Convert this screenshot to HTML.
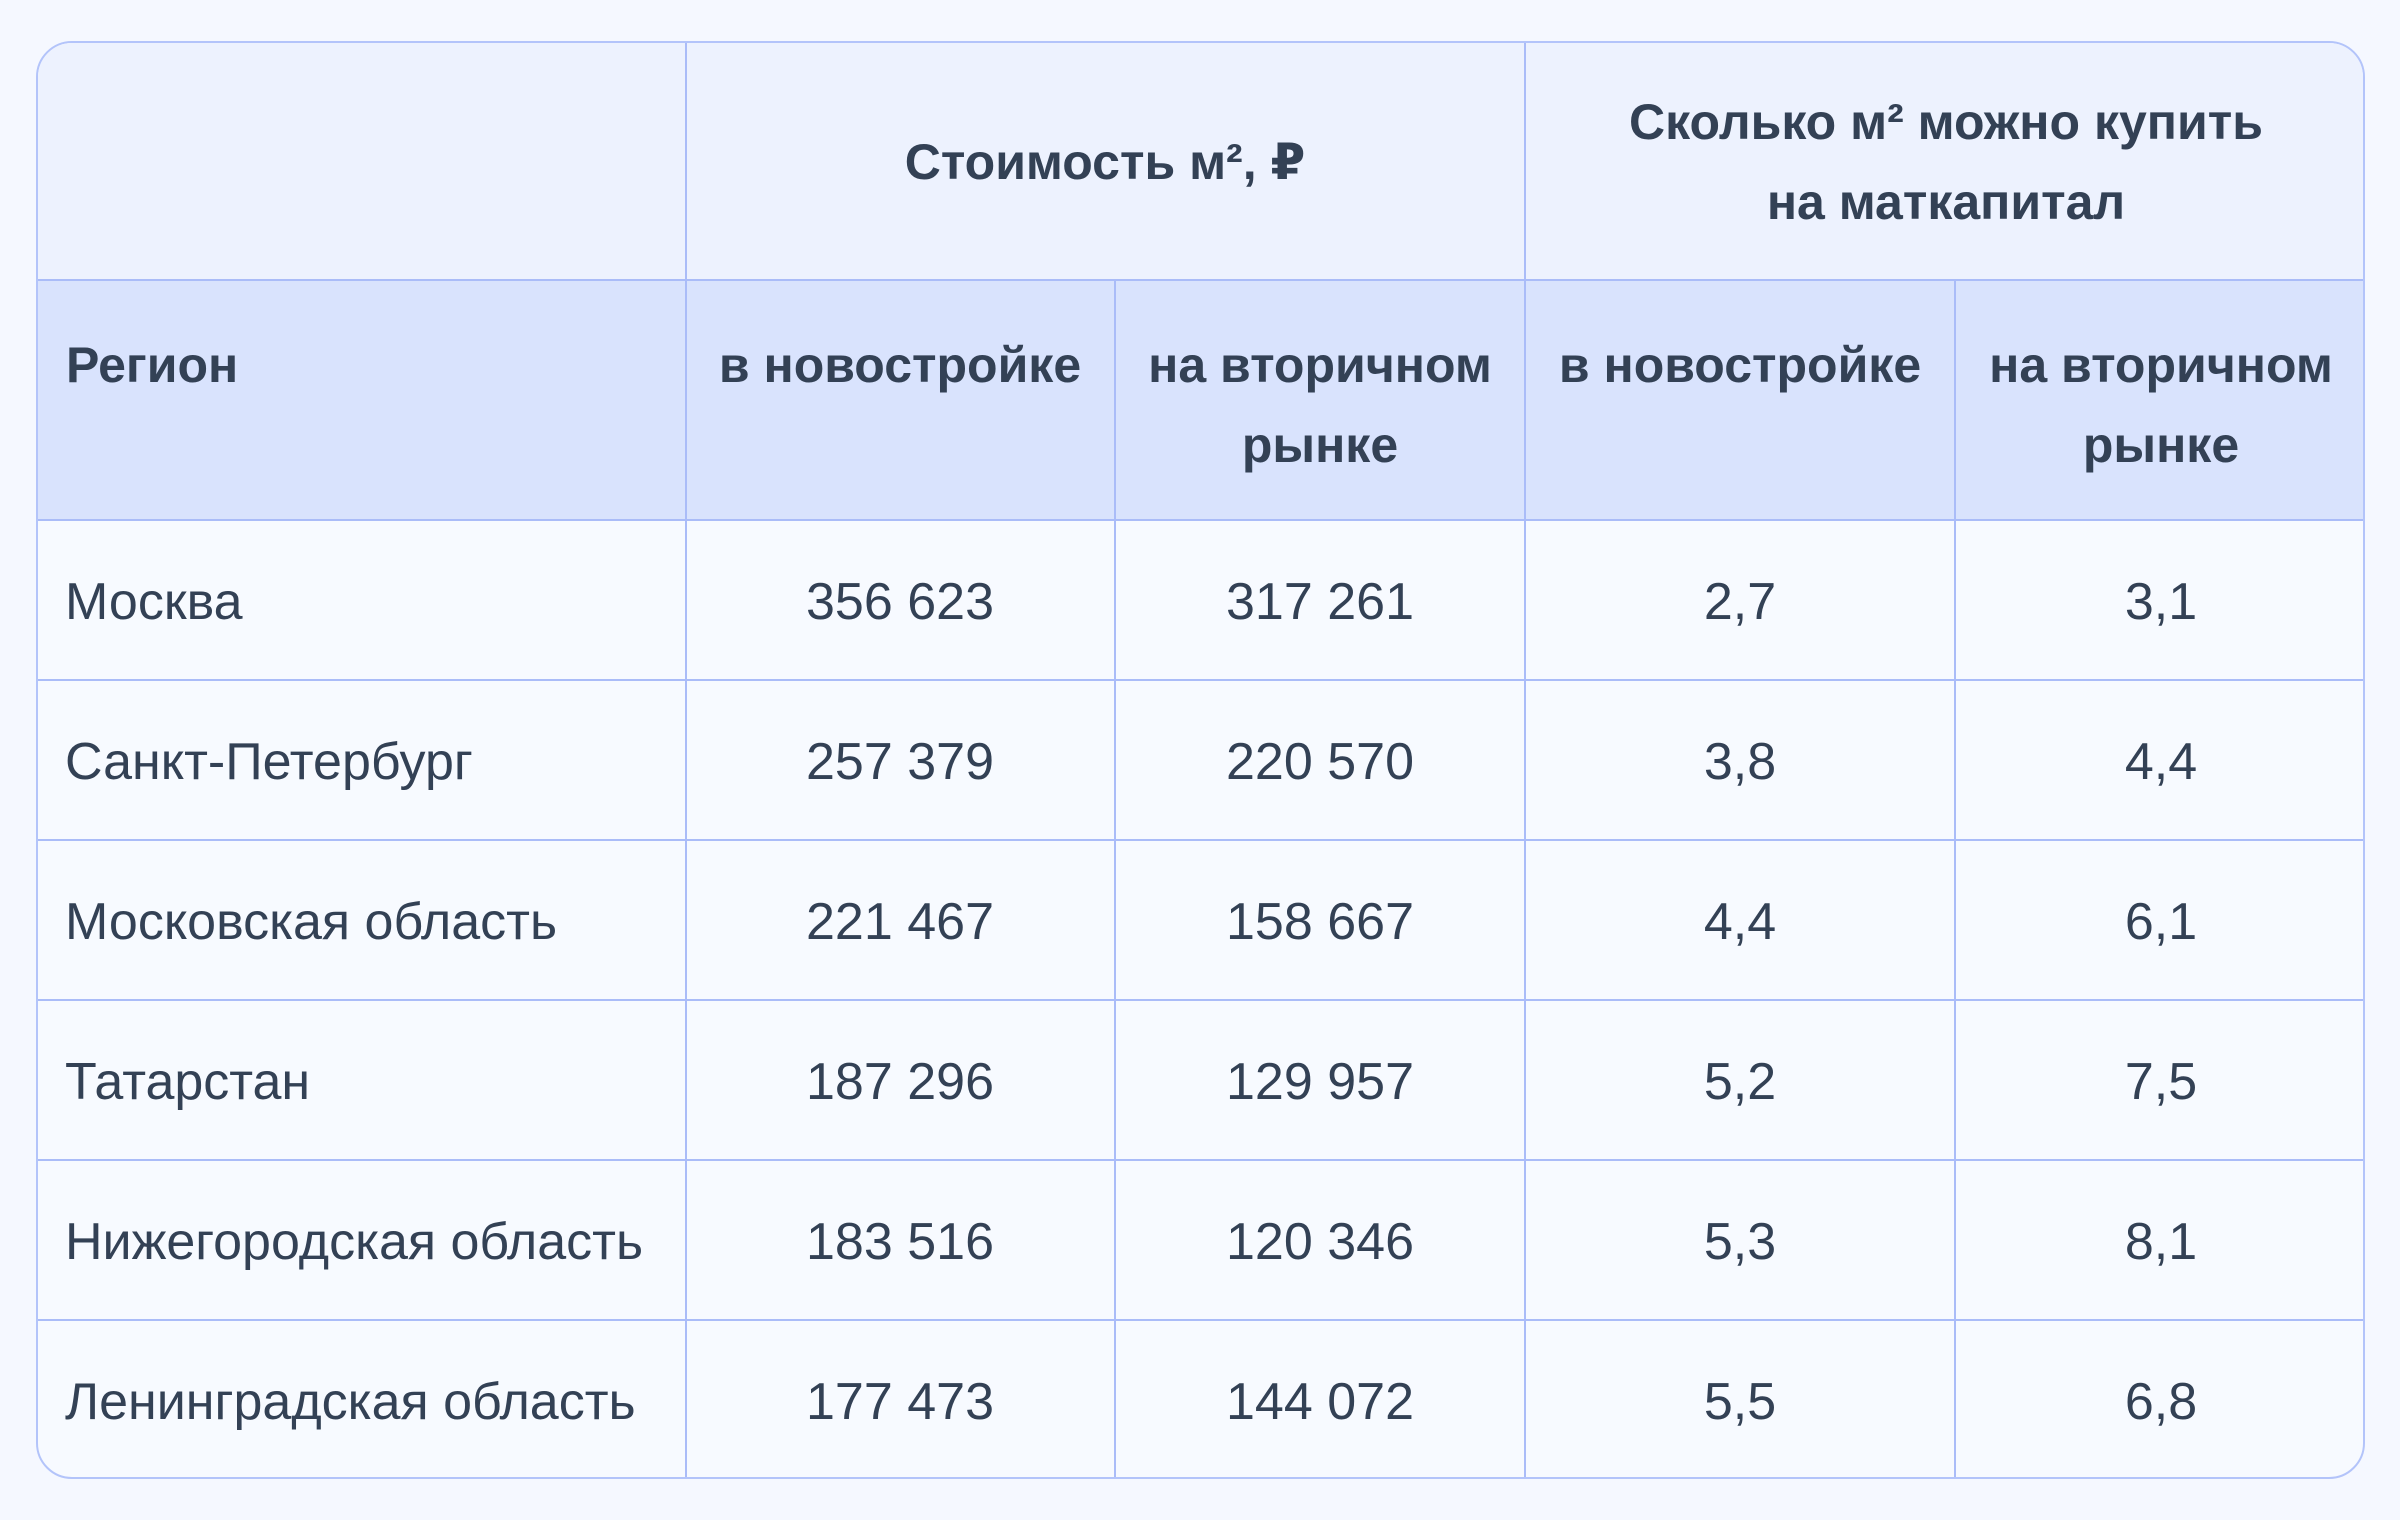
<!DOCTYPE html>
<html><head><meta charset="utf-8"><style>
html,body{margin:0;padding:0;}
body{width:2400px;height:1520px;background:#f5f8ff;position:relative;overflow:hidden;font-family:"Liberation Sans","DejaVu Sans",sans-serif;color:#334155;}
.t{position:absolute;left:36px;top:41px;width:2329px;height:1438px;border:2px solid #b3c4fa;border-radius:36px;overflow:hidden;box-sizing:border-box;background:#f7faff;}
.bg{position:absolute;left:0;width:100%;}
.hl{position:absolute;left:0;width:100%;height:2px;background:#aabcf8;}
.vl{position:absolute;width:2px;background:#aabcf8;}
.c{position:absolute;font-size:50px;line-height:80px;text-align:center;white-space:nowrap;}
.d{font-size:52px;}
.b{font-weight:bold;}
</style></head><body>
<div class="t">
<div class="bg" style="top:0;height:237px;background:#edf2fe"></div>
<div class="bg" style="top:237px;height:240px;background:#d9e3fd"></div>
<div class="hl" style="top:236px"></div>
<div class="hl" style="top:476px"></div>
<div class="hl" style="top:636px"></div>
<div class="hl" style="top:796px"></div>
<div class="hl" style="top:956px"></div>
<div class="hl" style="top:1116px"></div>
<div class="hl" style="top:1276px"></div>
<div class="vl" style="left:647px;top:0;height:1438px"></div>
<div class="vl" style="left:1076px;top:237px;height:1201px"></div>
<div class="vl" style="left:1486px;top:0;height:1438px"></div>
<div class="vl" style="left:1916px;top:237px;height:1201px"></div>

<div class="c b" style="left:648px;width:838px;top:79px">Стоимость м², ₽</div>
<div class="c b" style="left:1487px;width:842px;top:39px">Сколько м² можно купить<br>на маткапитал</div>

<div class="c b" style="left:28px;text-align:left;top:282px">Регион</div>
<div class="c b" style="left:648px;width:428px;top:282px">в новостройке</div>
<div class="c b" style="left:1077px;width:410px;top:282px">на вторичном<br>рынке</div>
<div class="c b" style="left:1487px;width:430px;top:282px">в новостройке</div>
<div class="c b" style="left:1917px;width:412px;top:282px">на вторичном<br>рынке</div>

<div class="c d" style="left:27px;text-align:left;top:519px">Москва</div>
<div class="c d" style="left:648px;width:428px;top:519px">356 623</div>
<div class="c d" style="left:1077px;width:410px;top:519px">317 261</div>
<div class="c d" style="left:1487px;width:430px;top:519px">2,7</div>
<div class="c d" style="left:1917px;width:412px;top:519px">3,1</div>

<div class="c d" style="left:27px;text-align:left;top:679px">Санкт-Петербург</div>
<div class="c d" style="left:648px;width:428px;top:679px">257 379</div>
<div class="c d" style="left:1077px;width:410px;top:679px">220 570</div>
<div class="c d" style="left:1487px;width:430px;top:679px">3,8</div>
<div class="c d" style="left:1917px;width:412px;top:679px">4,4</div>

<div class="c d" style="left:27px;text-align:left;top:839px">Московская область</div>
<div class="c d" style="left:648px;width:428px;top:839px">221 467</div>
<div class="c d" style="left:1077px;width:410px;top:839px">158 667</div>
<div class="c d" style="left:1487px;width:430px;top:839px">4,4</div>
<div class="c d" style="left:1917px;width:412px;top:839px">6,1</div>

<div class="c d" style="left:27px;text-align:left;top:999px">Татарстан</div>
<div class="c d" style="left:648px;width:428px;top:999px">187 296</div>
<div class="c d" style="left:1077px;width:410px;top:999px">129 957</div>
<div class="c d" style="left:1487px;width:430px;top:999px">5,2</div>
<div class="c d" style="left:1917px;width:412px;top:999px">7,5</div>

<div class="c d" style="left:27px;text-align:left;top:1159px">Нижегородская область</div>
<div class="c d" style="left:648px;width:428px;top:1159px">183 516</div>
<div class="c d" style="left:1077px;width:410px;top:1159px">120 346</div>
<div class="c d" style="left:1487px;width:430px;top:1159px">5,3</div>
<div class="c d" style="left:1917px;width:412px;top:1159px">8,1</div>

<div class="c d" style="left:27px;text-align:left;top:1319px">Ленинградская область</div>
<div class="c d" style="left:648px;width:428px;top:1319px">177 473</div>
<div class="c d" style="left:1077px;width:410px;top:1319px">144 072</div>
<div class="c d" style="left:1487px;width:430px;top:1319px">5,5</div>
<div class="c d" style="left:1917px;width:412px;top:1319px">6,8</div>
</div>
</body></html>
